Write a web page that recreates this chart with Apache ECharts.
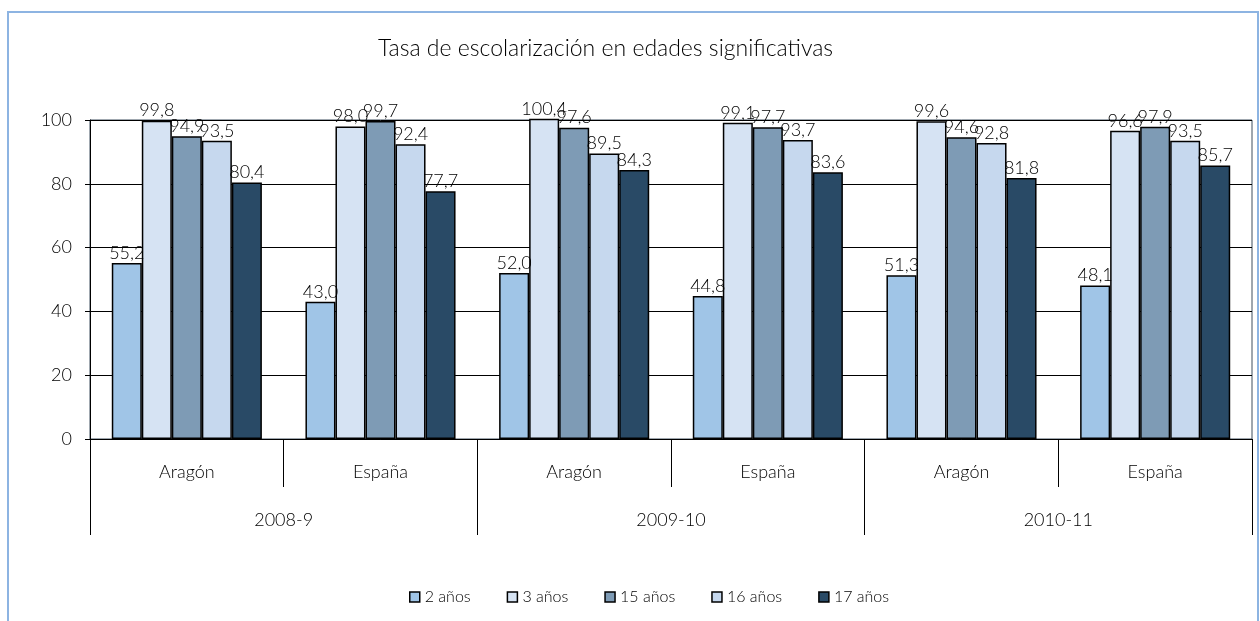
<!DOCTYPE html>
<html>
<head>
<meta charset="utf-8">
<style>
  html, body { margin: 0; padding: 0; background: #fff; }
  #chart { width: 1260px; height: 621px; }
</style>
<script src="https://cdn.jsdelivr.net/npm/echarts@6/dist/echarts.min.js"></script>
</head>
<body>
<div id="chart"></div>
<script>
// categorias (nivel 1 y nivel 2 del eje x)
const regions = ['Aragón', 'España', 'Aragón', 'España', 'Aragón', 'España']
const years = ['2008-9', '2009-10', '2010-11']
const seriesNames = ['2 años', '3 años', '15 años', '16 años', '17 años']

// valores por edad, en el orden de regions
const age2 = [55.2, 43.0, 52.0, 44.8, 51.3, 48.1]
const age3 = [99.8, 98.0, 100.4, 99.1, 99.6, 96.6]
const age15 = [94.9, 99.7, 97.6, 97.7, 94.6, 97.9]
const age16 = [93.5, 92.4, 89.5, 93.7, 92.8, 93.5]
const age17 = [80.4, 77.7, 84.3, 83.6, 81.8, 85.7]

const yTicks = [0, 20, 40, 60, 80, 100]

const colors = ['#a0c5e7', '#d6e3f3', '#7e9bb5', '#c6d8ee', '#294a66']
const font = 'Lato, "Open Sans", sans-serif'
const weight = 300

const chart = echarts.init(document.getElementById('chart'))

const values = [age2, age3, age15, age16, age17]

const option = {
  animation: false,
  textStyle: { fontFamily: font, fontWeight: weight },
  title: {
    text: 'Tasa de escolarización en edades significativas',
    left: 373,
    top: 32,
    textStyle: { fontSize: 23, fontWeight: weight, color: '#000', fontFamily: font }
  },
  graphic: [{
    type: 'rect',
    shape: { x: 8, y: 12, width: 1250, height: 660 },
    style: { fill: 'none', stroke: '#8db4e2', lineWidth: 2 },
    silent: true
  }],
  legend: {
    data: seriesNames,
    left: 404,
    top: 584,
    itemWidth: 10,
    itemHeight: 10,
    itemGap: 36,
    icon: 'rect',
    textStyle: { fontSize: 16, color: '#000', fontFamily: font, fontWeight: weight },
    itemStyle: { borderColor: '#000', borderWidth: 1.5 }
  },
  grid: {
    left: 90, right: 8, top: 120, bottom: 182,
    show: true, borderColor: '#3f4f5f', borderWidth: 1
  },
  xAxis: [{
    type: 'category',
    data: regions,
    position: 'bottom',
    axisLine: { show: true, lineStyle: { color: '#000', width: 1 } },
    axisTick: { show: true, alignWithLabel: false, interval: 0, length: 48, lineStyle: { color: '#000' } },
    axisLabel: { fontSize: 18, color: '#000', margin: 24, fontFamily: font, fontWeight: weight }
  }, {
    type: 'category',
    data: years,
    position: 'bottom',
    axisLine: { show: false },
    axisTick: { show: true, alignWithLabel: false, interval: 0, length: 96, lineStyle: { color: '#000' } },
    axisLabel: { fontSize: 18, color: '#000', margin: 72, fontFamily: font, fontWeight: weight }
  }],
  yAxis: {
    type: 'value',
    min: yTicks[0],
    max: yTicks[yTicks.length - 1],
    interval: 20,
    axisLine: { show: true, lineStyle: { color: '#000' } },
    axisTick: { show: true, length: 5, lineStyle: { color: '#000' } },
    axisLabel: { fontSize: 18, color: '#000', margin: 18, fontFamily: font, fontWeight: weight },
    splitLine: { lineStyle: { color: '#000', width: 1 } }
  },
  series: seriesNames.map((name, i) => ({
    name,
    type: 'bar',
    xAxisIndex: 0,
    data: values[i],
    clip: false,
    barGap: '0%',
    barCategoryGap: '22.5%',
    itemStyle: { color: colors[i], borderColor: '#000', borderWidth: 1.5 },
    label: {
      show: true,
      position: 'top',
      distance: 1,
      fontSize: 18,
      color: '#000',
      fontFamily: font,
      fontWeight: weight,
      formatter: p => p.value.toFixed(1).replace('.', ',')
    }
  }))
}

chart.setOption(option)
</script>
</body>
</html>
